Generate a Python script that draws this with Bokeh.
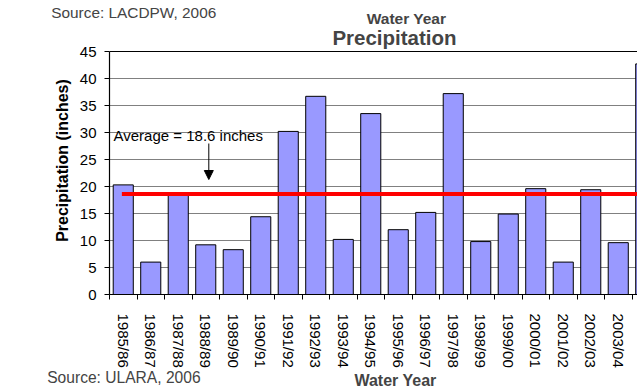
import math
from bokeh.plotting import figure
from bokeh.layouts import column
from bokeh.models import (Range1d, FixedTicker, SingleIntervalTicker, Label, Span,
                          Arrow, NormalHead, ColumnDataSource)
from bokeh.embed import file_html
from bokeh.resources import INLINE

# ---- data ----
years = ["1985/86", "1986/87", "1987/88", "1988/89", "1989/90", "1990/91",
         "1991/92", "1992/93", "1993/94", "1994/95", "1995/96", "1996/97",
         "1997/98", "1998/99", "1999/00", "2000/01", "2001/02", "2002/03",
         "2003/04", "2004/05"]
precip = [20.3, 6.0, 18.6, 9.2, 8.3, 14.4, 30.2, 36.7, 10.2, 33.5, 12.0, 15.2,
          37.2, 9.8, 14.9, 19.6, 6.0, 19.4, 9.6, 42.7]
average = 18.6
y_ticks_step = 5
y_max = 45

FONT = "Liberation Sans"
W = 637
H_HEAD, H_MAIN, H_FOOT = 26, 344, 22
SHIFT = 5  # label baseline correction (px)


def text_panel(height):
    f = figure(width=W, height=height, output_backend="svg", toolbar_location=None,
               title=None,
               x_range=Range1d(0, W), y_range=Range1d(height, 0),
               x_axis_type=None, y_axis_type=None,
               min_border=0, min_border_left=0, min_border_right=0,
               min_border_top=0, min_border_bottom=0)
    f.outline_line_color = None
    f.frame_align = False
    return f


# ---- header ----
head = text_panel(H_HEAD)
head.add_layout(Label(x=50.7, y=16.8 - SHIFT, text="Source: LACDPW, 2006", text_font=FONT,
                      text_font_size="15.4px", text_align="left", text_baseline="alphabetic"))
head.add_layout(Label(x=406, y=23 - SHIFT, text="Water Year", text_font=FONT,
                      text_font_size="15.5px", text_font_style="bold",
                      text_align="center", text_baseline="alphabetic"))

# ---- main chart ----
LEFT, TOP, BOTTOM, RIGHT = 109, 0, 76, 0
X0, X1 = -0.5, 18.7
frame_left = LEFT
frame_right = W - RIGHT
frame_top = H_HEAD + TOP
frame_bottom = H_HEAD + H_MAIN - BOTTOM
axis_top_px = 51  # page y of the 45 line
sy = (frame_bottom - axis_top_px) / y_max
Y1 = (frame_bottom - frame_top) / sy
sx = (frame_right - frame_left) / (X1 - X0)


def dx(px):
    return X0 + (px - frame_left) / sx


def dy(py):
    return (frame_bottom - py) / sy


p = figure(width=W, height=H_MAIN, output_backend="svg", toolbar_location=None,
           title=None,
           x_range=Range1d(X0, X1), y_range=Range1d(0, Y1),
           min_border_left=LEFT, min_border_top=TOP, min_border_bottom=BOTTOM,
           min_border_right=RIGHT)
p.outline_line_color = None
p.frame_align = False

src = ColumnDataSource(dict(x=list(range(len(years))), top=precip, name=years))
p.vbar(x="x", top="top", width=0.73, bottom=0, source=src,
       fill_color="#9999FF", line_color="black", line_width=1)

# average line
p.segment(x0=[-0.05], x1=[len(years)], y0=[average], y1=[average],
          line_color="#FF0000", line_width=4)

# top border of plot area
p.add_layout(Span(location=y_max, dimension="width", line_color="black", line_width=1.2))

xa = p.xaxis[0]
xa.ticker = FixedTicker(ticks=list(range(len(years))),
                        minor_ticks=[i - 0.5 for i in range(len(years) + 1)])
xa.major_label_overrides = {i: y for i, y in enumerate(years)}
xa.major_label_orientation = -math.pi / 2
xa.major_tick_out = 0
xa.major_tick_in = 0
xa.minor_tick_out = 5
xa.minor_tick_in = 0
xa.minor_tick_line_color = "black"
xa.major_label_standoff = 14
xa.major_label_text_font = FONT
xa.major_label_text_font_size = "15px"
xa.major_label_text_color = "black"
xa.axis_line_color = "black"
xa.axis_line_width = 1.2

ya = p.yaxis[0]
ya.ticker = SingleIntervalTicker(interval=y_ticks_step, num_minor_ticks=0)
ya.bounds = (0, y_max)
ya.major_tick_out = 5
ya.major_tick_in = 0
ya.minor_tick_out = 0
ya.minor_tick_in = 0
ya.major_label_standoff = 8
ya.major_label_text_font = FONT
ya.major_label_text_font_size = "15px"
ya.major_label_text_color = "black"
ya.axis_line_color = "black"
ya.axis_line_width = 1.2
ya.major_tick_line_color = "black"
ya.axis_label = "Precipitation (inches)"
ya.axis_label_text_font = FONT
ya.axis_label_text_font_size = "16px"
ya.axis_label_text_font_style = "bold"
ya.axis_label_text_color = "black"
ya.axis_label_standoff = 6

p.xgrid.grid_line_color = None
p.ygrid.grid_line_color = "#808080"
p.ygrid.grid_line_width = 1.2
p.ygrid.bounds = (0, y_max)

# chart title inside the (extended) frame
p.add_layout(Label(x=dx(394), y=dy(41.5 - SHIFT), text="Precipitation", text_font=FONT,
                   text_font_size="20.5px", text_font_style="bold",
                   text_align="center", text_baseline="alphabetic"))

p.add_layout(Label(x=dx(113), y=dy(139 - 4.5), text="Average = 18.6 inches",
                   text_font=FONT, text_font_size="15px", text_color="black",
                   text_baseline="alphabetic", text_align="left"))
p.add_layout(Arrow(end=NormalHead(size=9, fill_color="black", line_color="black"),
                   x_start=dx(208.3), y_start=dy(143), x_end=dx(208.3), y_end=dy(179),
                   line_color="black", line_width=1))

# ---- footer ----
foot = text_panel(H_FOOT)
top_f = H_HEAD + H_MAIN
foot.add_layout(Label(x=46.7, y=382.3 - SHIFT - top_f, text="Source: ULARA, 2006", text_font=FONT,
                      text_font_size="15.6px", text_align="left", text_baseline="alphabetic"))
foot.add_layout(Label(x=395, y=384.5 - SHIFT - top_f, text="Water Year", text_font=FONT,
                      text_font_size="16px", text_font_style="bold",
                      text_align="center", text_baseline="alphabetic"))

layout = column(head, p, foot, spacing=0)
open("out.html", "w").write(file_html(layout, INLINE))
